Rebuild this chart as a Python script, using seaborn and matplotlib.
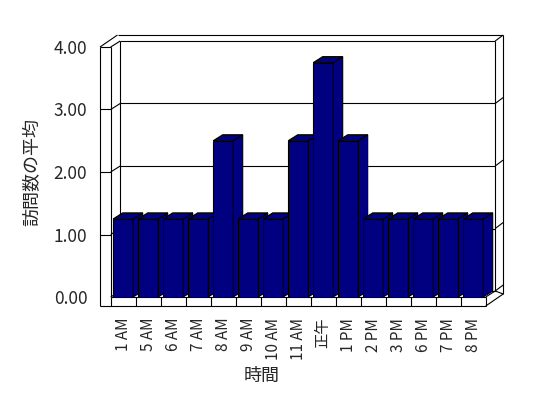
import matplotlib
matplotlib.use("Agg")
import matplotlib.pyplot as plt
import seaborn as sns
import pandas as pd
from matplotlib.patches import Polygon

# chart data
hours = ["1 AM", "5 AM", "6 AM", "7 AM", "8 AM", "9 AM", "10 AM", "11 AM",
         "正午", "1 PM", "2 PM", "3 PM", "6 PM", "7 PM", "8 PM"]
avg_visits = [1.25, 1.25, 1.25, 1.25, 2.5, 1.25, 1.25, 2.5,
              3.75, 2.5, 1.25, 1.25, 1.25, 1.25, 1.25]
y_ticks = [0, 1, 2, 3, 4]
y_ticklabels = ["0.00", "1.00", "2.00", "3.00", "4.00"]

sns.set_style("white")
plt.rcParams['font.family'] = ['Noto Sans CJK JP', 'DejaVu Sans']

W, H = 548, 398
fig = plt.figure(figsize=(W / 100, H / 100), dpi=100)
ax = fig.add_axes([110.7 / W, 101 / H, 375 / W, 250 / H])

df = pd.DataFrame({"時間": hours, "訪問数の平均": avg_visits})
sns.barplot(data=df, x="時間", y="訪問数の平均", color="#000080", saturation=1,
            width=0.8, edgecolor="black", linewidth=0.8, ax=ax)

L, R, B, T = -0.5, len(hours) - 0.5, y_ticks[0], y_ticks[-1]
ax.set_xlim(L, R)
ax.set_ylim(B, T)
for s in ax.spines.values():
    s.set_visible(False)

# pixel -> data conversion for the fake 3D depth
p0 = ax.transData.transform((0, 0))
p1 = ax.transData.transform((1, 1))
sx, sy = p1 - p0


def off(x, y, dx=0, dy=0):
    return (x + dx / sx, y + dy / sy)


D1 = (9.5, 6)     # back wall / bar depth
D2 = (17.5, 12)   # outer edge of the walls
t, f = 10.7, 9    # left wall and floor thickness

line_kw = dict(color="black", lw=0.8, clip_on=False, zorder=1, solid_capstyle="butt")


def seg(a, b):
    ax.plot([a[0], b[0]], [a[1], b[1]], **line_kw)


# left wall front face
seg(off(L, T, -t), off(L, B, -t, -f))
seg(off(L, T), off(L, B))
seg(off(L, T, -t), off(L, T))
# floor front face
seg(off(L, B, -t, -f), off(R, B, 0, -f))
seg(off(L, B), off(R, B))
for k in range(len(hours) + 1):
    seg(off(L + k, B), off(L + k, B, 0, -f))
# back wall and outer edges
seg(off(L, T, -t), off(L, T, -t + D2[0], D2[1]))
seg(off(L, T, -t + D2[0], D2[1]), off(R, T, *D2))
seg(off(L, T), off(L, T, *D1))
seg(off(L, T, *D1), off(R, T, *D1))
seg(off(L, T, *D1), off(L, B, *D1))
seg(off(R, T, *D1), off(R, B, *D1))
seg(off(R, T, *D1), off(R, T, *D2))
seg(off(R, T, *D2), off(R, B, D2[0], D2[1] - f))
seg(off(R, B, 0, -f), off(R, B, D2[0], D2[1] - f))
seg(off(R, B), off(R, B, *D1))
seg(off(R, B, *D1), off(R, B, D2[0], D2[1] - f))
# gridlines on the back wall
for yv in y_ticks[:-1]:
    seg(off(L, yv, *D1), off(R, yv, *D1))
    seg(off(L, yv), off(L, yv, *D1))
    seg(off(R, yv, *D1), off(R, yv, *D2))
    if yv > 0:
        seg(off(L, yv, -t), off(L, yv))

# 3D tops and sides of the bars
for i, rect in enumerate(ax.patches):
    x0, w, h = rect.get_x(), rect.get_width(), rect.get_height()
    rect.set_zorder(10 + 3 * i)
    top = [(x0, h), (x0 + w, h), off(x0 + w, h, *D1), off(x0, h, *D1)]
    side = [(x0 + w, 0), (x0 + w, h), off(x0 + w, h, *D1), off(x0 + w, 0, *D1)]
    for pts in (top, side):
        ax.add_patch(Polygon(pts, closed=True, facecolor="#000080", edgecolor="black",
                             lw=0.8, zorder=10 + 3 * i + 1, clip_on=False))

ax.set_xlim(L, R)
ax.set_ylim(B, T)
ax.set_yticks(y_ticks, y_ticklabels)
ax.tick_params(axis="y", length=0, pad=16.8, labelsize=12.5)
ax.tick_params(axis="x", length=0, pad=15, labelsize=11, rotation=90)

ax.set_xlabel("時間", fontsize=13)
ax.xaxis.set_label_coords((262 - 110.7) / 375, (398 - 376 - 101) / 250)
ax.xaxis.label.set_va("center")
ax.set_ylabel("訪問数の平均", fontsize=13)
ax.yaxis.set_label_coords((32 - 110.7) / 375, 0.5)
ax.yaxis.label.set_va("center")
ax.yaxis.label.set_ha("center")

fig.savefig("out.png", dpi=100, facecolor="white")
